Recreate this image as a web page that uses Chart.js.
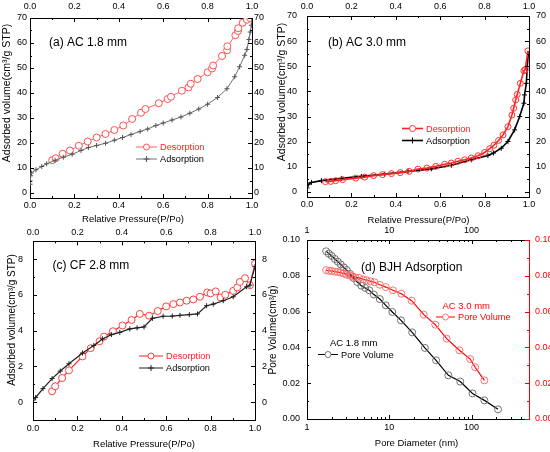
<!DOCTYPE html>
<html>
<head>
<meta charset="utf-8">
<script src="https://cdn.jsdelivr.net/npm/chart.js@4.4.0/dist/chart.umd.min.js"></script>
<style>
  body { margin: 0; background: #fff; }
  canvas { position: absolute; }
</style>
</head>
<body>
<canvas id="chartA" width="275" height="226" style="left:0;top:0"></canvas>
<canvas id="chartB" width="275" height="226" style="left:275px;top:0"></canvas>
<canvas id="chartC" width="282" height="226" style="left:0;top:226px"></canvas>
<canvas id="chartD" width="275" height="226" style="left:275px;top:226px"></canvas>
<script>
// ---- data ----
// (a) AC 1.8 mm
const aDesP = [0.10,0.116,0.147,0.18,0.22,0.26,0.30,0.34,0.38,0.42,0.46,0.50,0.52,0.58,0.62,0.635,0.684,0.714,0.724,0.755,0.80,0.82,0.825,0.865,0.888,0.889,0.925,0.937,0.938,0.958,0.977,0.992];
const aDesV = [13.1,13.9,15.7,17.0,18.9,20.6,22.2,23.6,25.2,27.0,29.6,32.1,33.6,35.9,37.6,38.5,40.9,42.2,43.7,45.6,48.3,49.8,51.0,54.8,57.1,58.7,63.1,64.8,65.9,68.1,69.3,70.0];
const aAdsP = [0.0,0.001,0.003,0.006,0.027,0.053,0.075,0.113,0.15,0.19,0.23,0.263,0.30,0.34,0.38,0.417,0.455,0.496,0.53,0.567,0.60,0.64,0.68,0.72,0.76,0.80,0.845,0.887,0.922,0.944,0.967,0.977,0.986,0.992,0.997,1.0];
const aAdsV = [3.5,4.8,6.9,8.0,9.3,10.6,11.7,13.1,14.3,15.5,17.0,18.2,19.0,19.9,21.1,22.2,23.4,24.6,25.6,27.0,28.0,29.2,30.4,31.9,33.6,35.5,38.2,41.7,46.5,50.5,55.1,57.4,61.4,64.4,67.1,70.0];

// (b) AC 3.0 mm
const bDesP = [0.083,0.107,0.129,0.16,0.22,0.26,0.30,0.34,0.38,0.42,0.46,0.50,0.54,0.58,0.62,0.65,0.68,0.71,0.74,0.77,0.80,0.823,0.842,0.863,0.883,0.905,0.923,0.931,0.94,0.947,0.961,0.977,0.983,0.995];
const bDesV = [4.1,4.2,4.5,4.9,5.5,5.9,6.5,6.9,7.3,7.7,8.2,9.1,9.5,10.2,11.0,11.5,12.2,12.8,13.5,14.4,15.7,17.2,18.6,20.5,22.7,26.0,30.6,33.3,36.6,38.8,43.2,48.2,48.7,56.1];
const bAdsP = [0,0.005,0.02,0.065,0.155,0.245,0.35,0.455,0.56,0.65,0.74,0.815,0.84,0.875,0.905,0.935,0.958,0.977,0.98,0.988,0.992,0.997];
const bAdsV = [1.6,2.9,3.8,4.5,5.4,6.2,7.1,8.2,9.2,10.6,12.8,14.5,15.5,17.4,20.1,24.7,30.0,35.3,38.6,43.2,49.8,55.1];

// (c) CF 2.8 mm
const cDesP = [0.086,0.10,0.131,0.162,0.223,0.26,0.30,0.32,0.36,0.403,0.444,0.481,0.523,0.562,0.60,0.632,0.662,0.692,0.722,0.752,0.785,0.80,0.823,0.845,0.866,0.902,0.92,0.932,0.955,0.977,1.0];
const cDesV = [0.61,0.89,1.35,1.78,2.56,3.02,3.41,3.67,3.97,4.29,4.60,4.94,4.84,5.10,5.36,5.49,5.58,5.68,5.75,5.90,6.14,6.09,6.20,5.86,6.01,6.23,6.42,6.73,6.94,6.55,7.76];
const cAdsP = [0,0.012,0.045,0.086,0.123,0.162,0.223,0.274,0.313,0.353,0.391,0.436,0.469,0.50,0.538,0.586,0.627,0.662,0.704,0.741,0.782,0.812,0.857,0.902,0.962,0.977,1.0];
const cAdsV = [0.11,0.26,0.76,1.32,1.74,2.15,2.75,3.17,3.54,3.78,3.91,4.10,4.16,4.21,4.69,4.81,4.82,4.86,4.90,4.94,5.40,5.49,5.68,5.90,6.46,6.55,7.6];

// (d) BJH adsorption, pore diameter (nm) vs pore volume
const d18D = [1.71,1.84,2.0,2.18,2.37,2.57,2.80,3.04,3.34,3.66,4.09,4.57,5.11,5.71,6.50,7.68,9.08,10.9,13.9,19.0,27.1,37.1,52.3,73.0,102.8,143.5,210];
const d18V = [0.0937,0.0924,0.0911,0.0894,0.0879,0.0864,0.0847,0.0832,0.0810,0.0788,0.0765,0.0745,0.0732,0.0719,0.0695,0.0670,0.0635,0.0598,0.0551,0.0484,0.0397,0.0328,0.0244,0.0209,0.0143,0.0104,0.0054];
const d30D = [1.71,1.86,2.0,2.18,2.37,2.55,2.77,3.01,3.27,3.56,3.9,4.32,4.83,5.3,5.93,6.62,7.68,9.08,11.1,14.0,18.7,26.3,36.3,49.9,71.2,96.3,110.7,143.5];
const d30V = [0.0832,0.0827,0.0827,0.0823,0.0821,0.0818,0.0814,0.0806,0.0803,0.0797,0.0791,0.0788,0.0780,0.0775,0.0769,0.0764,0.0750,0.0737,0.0719,0.0700,0.0661,0.0583,0.0527,0.0449,0.0384,0.0335,0.0289,0.0216];

// tick values
const pTicks = [0, 0.2, 0.4, 0.6, 0.8, 1.0];
const pMinor = [0.1, 0.3, 0.5, 0.7, 0.9];
const vTicks = [0, 10, 20, 30, 40, 50, 60, 70];
const vMinor = [5, 15, 25, 35, 45, 55, 65];
const cTicks = [0, 2, 4, 6, 8];
const cMinor = [-1, 1, 3, 5, 7, 9];
const dTicks = [1, 10, 100];
const dMinor = [2,3,4,5,6,7,8,9,20,30,40,50,60,70,80,90,200,300,400];
const pvTicks = [0, 0.02, 0.04, 0.06, 0.08, 0.10];
const pvMinor = [0.01, 0.03, 0.05, 0.07, 0.09];

const FONT = '"Liberation Sans", Arial, sans-serif';
Chart.defaults.font.family = FONT;
Chart.defaults.font.size = 9;
Chart.defaults.color = '#000';

const pts = (xs, ys) => xs.map((x, i) => ({ x: x, y: ys[i] }));

function axis(pos, type, min, max, ticks, fmt, pad, size, color) {
  color = color || '#000';
  return {
    type: type, position: pos, min: min, max: max,
    afterBuildTicks: s => { s.ticks = ticks.map(v => ({ value: v })); },
    afterFit: s => { if (pos === 'top' || pos === 'bottom') s.height = size; else s.width = size; },
    grid: { display: false, drawTicks: false },
    border: { display: true, color: color, width: 1 },
    ticks: { padding: pad, color: color, autoSkip: false, maxRotation: 0, callback: v => fmt(v) }
  };
}

function series(xs, ys, color, mcolor, style, r, lw, fill) {
  return {
    data: pts(xs, ys), showLine: true, borderColor: color, borderWidth: lw,
    pointStyle: style, pointRadius: r, pointBorderColor: mcolor, pointBorderWidth: 1,
    pointBackgroundColor: fill || 'rgba(0,0,0,0)', tension: 0
  };
}

// draws inward ticks, titles and the in-plot legends
function deco(cfg) {
  return {
    id: 'deco',
    afterDraw(chart) {
      const ctx = chart.ctx, area = chart.chartArea;
      ctx.save();
      Object.values(chart.scales).forEach(s => {
        ctx.strokeStyle = (cfg.tickColor && cfg.tickColor[s.id]) || '#000';
        ctx.lineWidth = 1;
        const mark = (v, len) => {
          const p = Math.round(s.getPixelForValue(v)) + 0.5;
          ctx.beginPath();
          if (s.isHorizontal()) {
            const y0 = s.position === 'top' ? area.top : area.bottom;
            ctx.moveTo(p, y0); ctx.lineTo(p, y0 + (s.position === 'top' ? len : -len));
          } else {
            const x0 = s.position === 'left' ? area.left : area.right;
            ctx.moveTo(x0, p); ctx.lineTo(x0 + (s.position === 'left' ? len : -len), p);
          }
          ctx.stroke();
        };
        s.ticks.forEach(t => mark(t.value, 4));
        (cfg.minor[s.id] || []).forEach(v => mark(v, 2));
      });
      cfg.texts.forEach(t => {
        ctx.save();
        ctx.font = t.size + 'px ' + FONT;
        ctx.fillStyle = t.color || '#000';
        ctx.textBaseline = 'middle';
        ctx.textAlign = t.align || 'center';
        ctx.translate(t.x, t.y);
        if (t.rot) ctx.rotate(-Math.PI / 2);
        ctx.fillText(t.t, 0, 0);
        ctx.restore();
      });
      (cfg.keys || []).forEach(k => {
        ctx.strokeStyle = k.color; ctx.lineWidth = k.lw || 1;
        ctx.beginPath(); ctx.moveTo(k.x1, k.y); ctx.lineTo(k.x2, k.y); ctx.stroke();
        const cx = (k.x1 + k.x2) / 2;
        ctx.strokeStyle = k.mcolor; ctx.lineWidth = 1;
        ctx.beginPath();
        if (k.marker === 'circle') {
          ctx.arc(cx, k.y, 3, 0, Math.PI * 2);
          ctx.fillStyle = '#fff'; ctx.fill();
        } else {
          ctx.moveTo(cx - 3, k.y); ctx.lineTo(cx + 3, k.y);
          ctx.moveTo(cx, k.y - 3); ctx.lineTo(cx, k.y + 3);
        }
        ctx.stroke();
        ctx.font = '9.2px ' + FONT;
        ctx.fillStyle = k.tcolor; ctx.textAlign = 'left'; ctx.textBaseline = 'middle';
        ctx.fillText(k.text, k.x2 + 3, k.y + 0.5);
      });
      ctx.restore();
    }
  };
}

const baseOpts = {
  responsive: false, animation: false,
  layout: { padding: 0 },
  plugins: { legend: { display: false }, tooltip: { enabled: false } }
};
const f1 = v => v.toFixed(1);
const f0 = v => String(v);
const f2 = v => v.toFixed(2);

// (a)
new Chart(document.getElementById('chartA'), {
  type: 'scatter',
  data: { datasets: [
    series(aAdsP, aAdsV, '#707070', '#555', 'cross', 2.5, 1),
    series(aDesP, aDesV, '#ff6060', '#ff5050', 'circle', 3.5, 1, '#fff')
  ] },
  options: Object.assign({}, baseOpts, { scales: {
    x: axis('bottom', 'linear', 0, 1, pTicks, f1, 2, 28),
    xTop: axis('top', 'linear', 0, 1, pTicks, f1, 6, 18),
    y: axis('left', 'linear', -2, 70, vTicks, f0, 3, 30),
    yRight: axis('right', 'linear', -2, 70, vTicks, f0, 2, 23)
  } }),
  plugins: [deco({
    minor: { x: pMinor, xTop: pMinor, y: vMinor, yRight: vMinor },
    texts: [
      { t: '(a) AC 1.8 mm', x: 49, y: 43, size: 12, align: 'left' },
      { t: 'Relative Pressure(P/Po)', x: 133, y: 219, size: 9.5 },
      { t: 'Adsorbed volume(cm³/g STP)', x: 7, y: 93, size: 10.5, rot: true }
    ],
    keys: [
      { x1: 136, x2: 157, y: 147, color: '#ff6060', mcolor: '#ff5050', marker: 'circle', text: 'Desorption', tcolor: '#ff2020' },
      { x1: 136, x2: 157, y: 159, color: '#707070', mcolor: '#555', marker: 'cross', text: 'Adsorption', tcolor: '#000' }
    ]
  })]
});

// (b)
new Chart(document.getElementById('chartB'), {
  type: 'scatter',
  data: { datasets: [
    series(bDesP, bDesV, '#ff2020', '#ff3030', 'circle', 3, 1.6),
    series(bAdsP, bAdsV, '#000', '#000', 'cross', 2.5, 1.6)
  ] },
  options: Object.assign({}, baseOpts, { scales: {
    x: axis('bottom', 'linear', 0, 1, pTicks, f1, 2, 29),
    xTop: axis('top', 'linear', 0, 1, pTicks, f1, 4, 16),
    y: axis('left', 'linear', -2, 70, vTicks, f0, 10, 32),
    yRight: axis('right', 'linear', -2, 70, vTicks, f0, 7, 21)
  } }),
  plugins: [deco({
    minor: { x: pMinor, xTop: pMinor, y: vMinor, yRight: vMinor },
    texts: [
      { t: '(b) AC 3.0 mm', x: 53, y: 43, size: 12, align: 'left' },
      { t: 'Relative Pressure(P/Po)', x: 143.5, y: 220, size: 9.5 },
      { t: 'Adsorbed volume(cm³/g STP)', x: 7, y: 92, size: 10.5, rot: true }
    ],
    keys: [
      { x1: 127, x2: 148, y: 128.5, color: '#ff2020', mcolor: '#ff3030', marker: 'circle', text: 'Desorption', tcolor: '#ff2020', lw: 1.6 },
      { x1: 127, x2: 148, y: 140.5, color: '#000', mcolor: '#000', marker: 'cross', text: 'Adsorption', tcolor: '#000', lw: 1.6 }
    ]
  })]
});

// (c)
new Chart(document.getElementById('chartC'), {
  type: 'scatter',
  data: { datasets: [
    series(cAdsP, cAdsV, '#222', '#222', 'cross', 2.5, 1.2),
    series(cDesP, cDesV, '#ff2020', '#ff4040', 'circle', 3.5, 1.2, '#fff')
  ] },
  options: Object.assign({}, baseOpts, { scales: {
    x: axis('bottom', 'linear', 0, 1, pTicks, f1, 3, 32),
    xTop: axis('top', 'linear', 0, 1, pTicks, f1, 3, 13),
    y: axis('left', 'linear', -1, 9, cTicks, f0, 10, 33),
    yRight: axis('right', 'linear', -1, 9, cTicks, f0, 7, 27)
  } }),
  plugins: [deco({
    minor: { x: pMinor, xTop: pMinor, y: cMinor, yRight: cMinor },
    texts: [
      { t: '(c) CF 2.8 mm', x: 52.5, y: 40, size: 12, align: 'left' },
      { t: 'Relative Pressure(P/Po)', x: 144, y: 218, size: 9.5 },
      { t: 'Adsorbed volume(cm³/g STP)', x: 12.5, y: 94, size: 10, rot: true },
      { t: 'Pore Volume(cm³/g)', x: 273, y: 104, size: 10, rot: true }
    ],
    keys: [
      { x1: 139, x2: 163, y: 130, color: '#ff2020', mcolor: '#ff4040', marker: 'circle', text: 'Desorption', tcolor: '#ff2020' },
      { x1: 139, x2: 163, y: 142, color: '#222', mcolor: '#222', marker: 'cross', text: 'Adsorption', tcolor: '#000' }
    ]
  })]
});

// (d)
const dC = series(d30D, d30V, '#ff0000', '#ff7070', 'circle', 3.5, 1.2);
dC.yAxisID = 'yRight';
new Chart(document.getElementById('chartD'), {
  type: 'scatter',
  data: { datasets: [
    dC,
    series(d18D, d18V, '#000', '#707070', 'circle', 3.5, 1.2)
  ] },
  options: Object.assign({}, baseOpts, { scales: {
    x: axis('bottom', 'logarithmic', 1, 500, dTicks, f0, 3, 33),
    xTop: axis('top', 'logarithmic', 1, 500, dTicks, f0, 4, 14),
    y: axis('left', 'linear', 0, 0.10, pvTicks, f2, 7, 32),
    yRight: axis('right', 'linear', 0, 0.10, pvTicks, f2, 6, 21, '#ff0000')
  } }),
  plugins: [deco({
    minor: { x: dMinor, xTop: dMinor, y: pvMinor, yRight: pvMinor },
    tickColor: { yRight: '#ff0000' },
    texts: [
      { t: '(d) BJH Adsorption', x: 86, y: 42, size: 12, align: 'left' },
      { t: 'Pore Diameter (nm)', x: 141.5, y: 217, size: 9.5 },
      { t: 'AC 3.0 mm', x: 167.5, y: 80, size: 9.5, align: 'left', color: '#ff0000' },
      { t: 'AC 1.8 mm', x: 55, y: 117.5, size: 9.5, align: 'left' }
    ],
    keys: [
      { x1: 161, x2: 180, y: 91, color: '#ff0000', mcolor: '#ff7070', marker: 'circle', text: 'Pore Volume', tcolor: '#ff0000' },
      { x1: 43, x2: 63, y: 128.5, color: '#000', mcolor: '#707070', marker: 'circle', text: 'Pore Volume', tcolor: '#000' }
    ]
  })]
});
</script>
</body>
</html>
